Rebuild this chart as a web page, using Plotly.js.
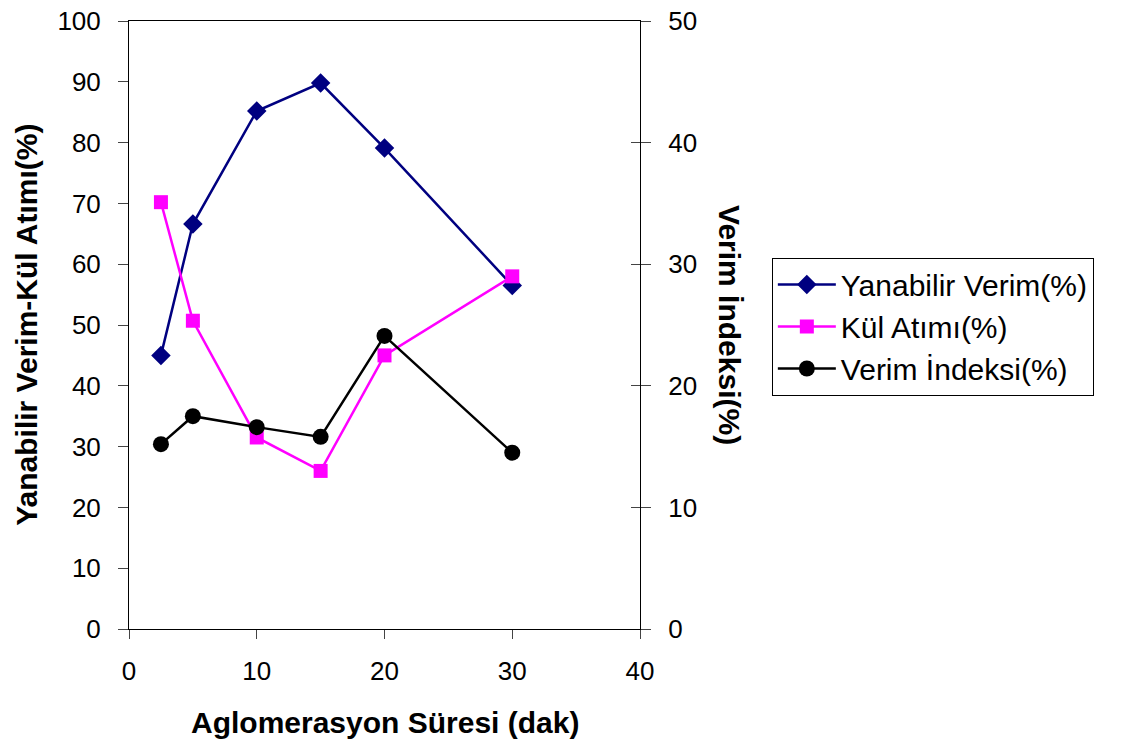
<!DOCTYPE html>
<html>
<head>
<meta charset="utf-8">
<script src="https://cdn.plot.ly/plotly-3.0.1.min.js"></script>
<style>
  html, body { margin: 0; padding: 0; background: #ffffff; }
  #chart { width: 1125px; height: 744px; }
</style>
</head>
<body>
<div id="chart"></div>
<script>
// Agglomeration time (minutes)
const sureler = [2.5, 5, 10, 15, 20, 30];

// Left axis series (%)
const yanabilirVerim = [45.0, 66.6, 85.2, 89.8, 79.1, 56.5];
const kulAtimi = [70.2, 50.7, 31.5, 26.0, 45.0, 58.0];

// Right axis series (%)
const verimIndeksi = [15.2, 17.5, 16.6, 15.8, 24.1, 14.5];

const seriesNames = ['Yanabilir Verim(%)', 'Kül Atımı(%)', 'Verim İndeksi(%)'];
const xTitle = 'Aglomerasyon Süresi (dak)';
const yTitleLeft = 'Yanabilir Verim-Kül Atımı(%)';
const yTitleRight = 'Verim İndeksi(%)';

const FONT = 'Liberation Sans, Arial, sans-serif';
const TICK_SIZE = 26;
const TITLE_SIZE = 30;

const traces = [
  {
    x: sureler, y: yanabilirVerim, name: seriesNames[0],
    type: 'scatter', mode: 'lines+markers',
    line: { color: '#000080', width: 2.5 },
    marker: { symbol: 'diamond', size: 15, color: '#000080' },
    xaxis: 'x', yaxis: 'y'
  },
  {
    x: sureler, y: kulAtimi, name: seriesNames[1],
    type: 'scatter', mode: 'lines+markers',
    line: { color: '#ff00ff', width: 2.5 },
    marker: { symbol: 'square', size: 14, color: '#ff00ff' },
    xaxis: 'x', yaxis: 'y'
  },
  {
    x: sureler, y: verimIndeksi, name: seriesNames[2],
    type: 'scatter', mode: 'lines+markers',
    line: { color: '#000000', width: 2.5 },
    marker: { symbol: 'circle', size: 16, color: '#000000' },
    xaxis: 'x', yaxis: 'y2'
  }
];

const layout = {
  width: 1125, height: 744,
  margin: { l: 129, r: 485, t: 21, b: 115, pad: 0 },
  paper_bgcolor: '#ffffff', plot_bgcolor: '#ffffff',
  font: { family: FONT, size: TICK_SIZE, color: '#000000' },
  showlegend: true,
  legend: {
    x: 1.258, xanchor: 'left', y: 0.611, yanchor: 'top',
    bgcolor: '#ffffff', bordercolor: '#000000', borderwidth: 1,
    font: { family: FONT, size: 30, color: '#000000' },
    itemwidth: 58, tracegroupgap: 0
  },
  xaxis: {
    range: [0, 40], dtick: 10, tick0: 0,
    showgrid: false, zeroline: false,
    showline: true, linecolor: '#000000', linewidth: 1, mirror: true,
    ticks: 'outside', ticklen: 9, tickcolor: '#444444', tickwidth: 1,
    ticklabelstandoff: 10,
    tickfont: { family: FONT, size: TICK_SIZE, color: '#000000' }
  },
  yaxis: {
    range: [0, 100], dtick: 10, tick0: 0,
    showgrid: false, zeroline: false,
    showline: true, linecolor: '#000000', linewidth: 1,
    ticks: 'outside', ticklen: 10, tickcolor: '#444444', tickwidth: 1,
    ticklabelstandoff: 12,
    tickfont: { family: FONT, size: TICK_SIZE, color: '#000000' }
  },
  yaxis2: {
    range: [0, 50], dtick: 10, tick0: 0,
    overlaying: 'y', side: 'right', anchor: 'x',
    showgrid: false, zeroline: false,
    showline: true, linecolor: '#000000', linewidth: 1,
    ticks: 'outside', ticklen: 10, tickcolor: '#444444', tickwidth: 1,
    ticklabelstandoff: 12,
    tickfont: { family: FONT, size: TICK_SIZE, color: '#000000' }
  },
  // inner half of the crossing ticks on the right-hand axis
  yaxis3: {
    range: [0, 50], dtick: 10, tick0: 0,
    overlaying: 'y', side: 'right', anchor: 'x',
    showgrid: false, zeroline: false, showline: false,
    ticks: 'inside', ticklen: 9, tickcolor: '#444444', tickwidth: 1,
    showticklabels: false
  },
  annotations: [
    {
      text: '<b>' + xTitle + '</b>', xref: 'paper', yref: 'paper',
      x: 0.5, y: -0.153, xanchor: 'center', yanchor: 'middle',
      showarrow: false, font: { family: FONT, size: TITLE_SIZE, color: '#000000' }
    },
    {
      text: '<b>' + yTitleLeft + '</b>', xref: 'paper', yref: 'paper',
      x: -0.202, y: 0.5, xanchor: 'center', yanchor: 'middle', textangle: -90,
      showarrow: false, font: { family: FONT, size: TITLE_SIZE, color: '#000000' }
    },
    {
      text: '<b>' + yTitleRight + '</b>', xref: 'paper', yref: 'paper',
      x: 1.176, y: 0.5, xanchor: 'center', yanchor: 'middle', textangle: 90,
      showarrow: false, font: { family: FONT, size: TITLE_SIZE, color: '#000000' }
    }
  ]
};

// the tick-only overlay axis needs a bound trace to be drawn
traces.push({
  x: [null], y: [null], xaxis: 'x', yaxis: 'y3',
  type: 'scatter', mode: 'lines', showlegend: false, hoverinfo: 'skip'
});

Plotly.newPlot('chart', traces, layout, { displayModeBar: false, staticPlot: true });
</script>
</body>
</html>
